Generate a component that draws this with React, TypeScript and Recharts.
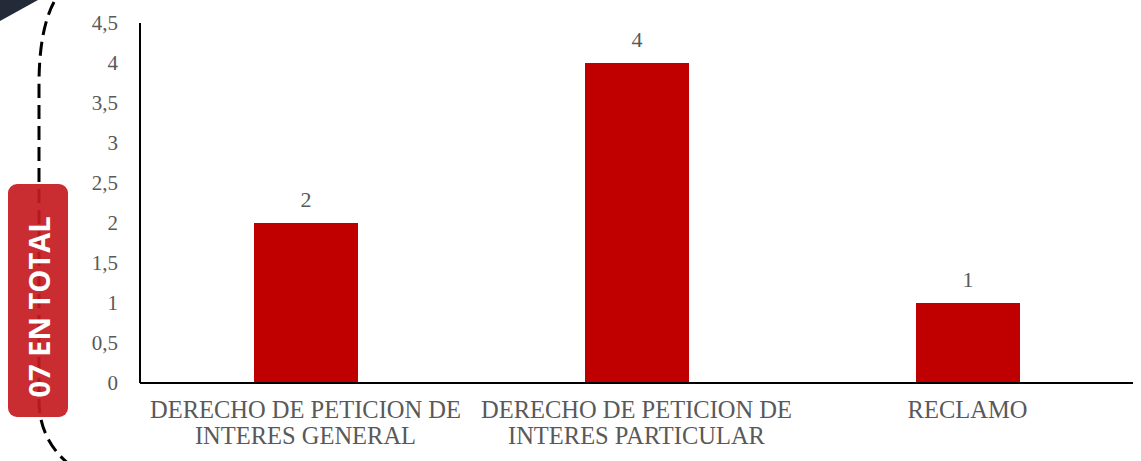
import { BarChart, Bar, XAxis, YAxis, LabelList } from 'recharts';

const categories = [
  'DERECHO DE PETICION DE INTERES GENERAL',
  'DERECHO DE PETICION DE INTERES PARTICULAR',
  'RECLAMO',
];
const counts = [2, 4, 1];
const yTicks = [0, 0.5, 1, 1.5, 2, 2.5, 3, 3.5, 4, 4.5];
const badgeText = '07 EN TOTAL';

const data = categories.map((name, i) => ({ name, value: counts[i] }));

const GRAY = '#595959';
const SERIF = '"Liberation Serif", "DejaVu Serif", serif';

const fmt = (v: number) => String(v).replace('.', ',');

function CategoryTick(props: any) {
  const { x, y, payload } = props;
  const lines = String(payload.value).replace(/ (INTERES)/, '\n$1').split('\n');
  return (
    <text x={x} y={y} textAnchor="middle" fill={GRAY} fontFamily={SERIF} fontSize={24.5}>
      {lines.map((line, i) => (
        <tspan key={i} x={x} dy={i === 0 ? 33 : 26}>
          {line}
        </tspan>
      ))}
    </text>
  );
}

export default function App() {
  return (
    <div style={{ position: 'absolute', left: 0, top: 0, width: 1141, height: 461, background: '#fff' }}>
      <BarChart
        width={1141}
        height={461}
        data={data}
        margin={{ top: 23, right: 8, bottom: 0, left: 0 }}
      >
        <XAxis
          dataKey="name"
          height={78}
          tickLine={false}
          tickSize={0}
          interval={0}
          axisLine={{ stroke: '#000', strokeWidth: 2 }}
          tick={<CategoryTick />}
        />
        <YAxis
          width={140}
          domain={[0, 4.5]}
          ticks={yTicks}
          tickLine={false}
          tickMargin={16}
          tickFormatter={fmt}
          axisLine={{ stroke: '#000', strokeWidth: 2 }}
          tick={{ fill: GRAY, fontFamily: SERIF, fontSize: 21 }}
        />
        <Bar dataKey="value" fill="#C00000" barSize={104} isAnimationActive={false}>
          <LabelList
            dataKey="value"
            position="top"
            offset={16}
            fill={GRAY}
            fontFamily={SERIF}
            fontSize={22}
          />
        </Bar>
      </BarChart>
      <svg
        width={120}
        height={461}
        style={{ position: 'absolute', left: 0, top: 0, pointerEvents: 'none' }}
      >
        <polygon points="0,0 38,0 0,21" fill="#232b38" />
        <path
          d="M 54 2 Q 39 30 39 85 L 39 400 Q 39 440 70 465"
          fill="none"
          stroke="#000"
          strokeWidth={3}
          strokeDasharray="14 7"
        />
        <rect x={8} y={184} width={60} height={233} rx={9} fill="#C41A20" fillOpacity={0.92} />
        <text
          x={38}
          y={307}
          transform="rotate(-90 38 307)"
          textAnchor="middle"
          dominantBaseline="central"
          fill="#fff"
          fontFamily='"Open Sans", sans-serif'
          fontWeight={700}
          fontSize={29}
        >
          {badgeText}
        </text>
      </svg>
    </div>
  );
}
